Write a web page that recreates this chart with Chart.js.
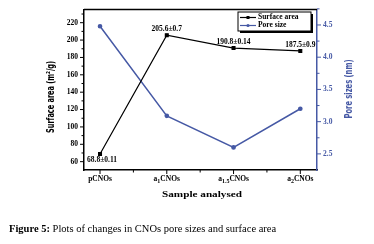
<!DOCTYPE html>
<html>
<head>
<meta charset="utf-8">
<script src="https://cdn.jsdelivr.net/npm/chart.js@4.4.1/dist/chart.umd.min.js"></script>
<style>
  html, body { margin: 0; padding: 0; background: #fff; }
  #wrap { width: 374px; height: 244px; position: relative; }
</style>
</head>
<body>
<div id="wrap"><canvas id="chart" width="374" height="244"></canvas></div>
<script>
// chart data
var samples = ['pCNOs', 'a1CNOs', 'a1.5CNOs', 'a2CNOs'];
var sampleSub = ['', '1', '1.5', '2'];
var surfaceArea = [68.8, 205.6, 190.8, 187.5];
var surfaceErr = ['68.8\u00b10.11', '205.6\u00b10.7', '190.8\u00b10.14', '187.5\u00b10.9'];
var poreSize = [4.48, 3.09, 2.6, 3.2];
var leftTicks = [60, 80, 100, 120, 140, 160, 180, 200, 220];
var rightTicks = [2.5, 3.0, 3.5, 4.0, 4.5];

var BLUE = '#4659a5';
var tickFont = 'bold 7.5px "Liberation Serif", serif';
var subFont = 'bold 6px "Liberation Serif", serif';

var points = function(vals){
	var out = [];
	for (var i in vals) out.push({x: Number(i), y: vals[i]});
	return out;
};

// text squeezed/stretched to a given length, centred at 0,0
var fitText = function(c, txt, len){
	var w = c.measureText(txt).width;
	c.save(); c.scale(len / w, 1); c.fillText(txt, 0, 0); c.restore();
};

var sampleLabel = function(c, i, cx, y){
	var sub = sampleSub[i];
	if (!sub) { c.font = tickFont; c.textAlign = 'center'; c.fillText(samples[i], cx, y); return; }
	c.font = tickFont;
	var wa = c.measureText('a').width, wc = c.measureText('CNOs').width;
	c.font = subFont;
	var ws = c.measureText(sub).width;
	var x = cx - (wa + ws + wc) / 2;
	c.textAlign = 'left';
	c.font = tickFont; c.fillText('a', x, y);
	c.font = subFont; c.fillText(sub, x + wa, y + 2.5);
	c.font = tickFont; c.fillText('CNOs', x + wa + ws, y);
};

var decor = {
	id: 'decor',
	afterDraw: function(chart){
		var c = chart.ctx, a = chart.chartArea;
		var sx = chart.scales.x, sy = chart.scales.y, sy1 = chart.scales.y1;
		c.save();
		// top frame
		c.strokeStyle = '#000'; c.lineWidth = 1.5;
		c.beginPath(); c.moveTo(a.left, a.top); c.lineTo(a.right, a.top); c.stroke();

		// left ticks
		c.lineWidth = 1;
		for (var v = 60; v <= 230; v += 10) {
			var y = sy.getPixelForValue(v), len = (v % 20 == 0) ? 4 : 2.5;
			c.beginPath(); c.moveTo(a.left, y); c.lineTo(a.left - len, y); c.stroke();
		}
		c.font = tickFont; c.fillStyle = '#000'; c.textAlign = 'right'; c.textBaseline = 'middle';
		for (var i in leftTicks) c.fillText(leftTicks[i], a.left - 6, sy.getPixelForValue(leftTicks[i]));

		// bottom ticks
		for (var k = 0; k <= 3; k += 0.5) {
			var x = sx.getPixelForValue(k), l2 = (k % 1 == 0) ? 4 : 2.5;
			c.beginPath(); c.moveTo(x, a.bottom); c.lineTo(x, a.bottom + l2); c.stroke();
		}
		c.textBaseline = 'alphabetic';
		for (var j in samples) sampleLabel(c, Number(j), sx.getPixelForValue(Number(j)), a.bottom + 10.5);

		// right ticks
		c.strokeStyle = BLUE; c.fillStyle = BLUE;
		for (var p = 2.5; p <= 4.75; p += 0.25) {
			var yy = sy1.getPixelForValue(p), l3 = (Math.round(p * 100) % 50 == 0) ? 4 : 2.5;
			c.beginPath(); c.moveTo(a.right, yy); c.lineTo(a.right + l3, yy); c.stroke();
		}
		c.font = tickFont; c.textAlign = 'left'; c.textBaseline = 'middle';
		for (var r in rightTicks) c.fillText(rightTicks[r].toFixed(1), a.right + 6, sy1.getPixelForValue(rightTicks[r]));

		// axis titles
		c.font = 'bold 10px "Liberation Sans Narrow", "DejaVu Sans Condensed", sans-serif';
		c.textAlign = 'center'; c.textBaseline = 'middle';
		c.save(); c.translate(349, 89); c.rotate(-Math.PI / 2);
		fitText(c, 'Pore sizes (nm)', 59); c.restore();
		c.fillStyle = '#000';
		c.save(); c.translate(51, 97); c.rotate(-Math.PI / 2);
		fitText(c, 'Surface area (m\u00b2/g)', 72); c.restore();
		c.font = 'bold 9px "Liberation Serif", serif';
		c.save(); c.translate(202, 195); fitText(c, 'Sample analysed', 80); c.restore();

		// value labels
		c.font = tickFont; c.textBaseline = 'alphabetic'; c.textAlign = 'center';
		var meta = chart.getDatasetMeta(0);
		for (var n in meta.data) {
			var pt = meta.data[n];
			if (n == 0) c.fillText(surfaceErr[n], pt.x + 2, pt.y + 8);
			else c.fillText(surfaceErr[n], pt.x, pt.y - 4);
		}

		// legend box
		var bx = 238, by = 12, bw = 73, bh = 19;
		c.fillStyle = '#000'; c.fillRect(bx + 2, by + 2, bw, bh);
		c.fillStyle = '#fff'; c.fillRect(bx, by, bw, bh);
		c.strokeStyle = '#000'; c.lineWidth = 1; c.strokeRect(bx, by, bw, bh);
		c.lineWidth = 1.2;
		c.beginPath(); c.moveTo(bx + 2, by + 5.5); c.lineTo(bx + 18, by + 5.5); c.stroke();
		c.fillStyle = '#000'; c.fillRect(bx + 8.5, by + 4, 3, 3);
		c.strokeStyle = BLUE;
		c.beginPath(); c.moveTo(bx + 2, by + 13.5); c.lineTo(bx + 18, by + 13.5); c.stroke();
		c.fillStyle = BLUE; c.beginPath(); c.arc(bx + 10, by + 13.5, 1.6, 0, Math.PI * 2); c.fill();
		c.fillStyle = '#000'; c.font = tickFont; c.textAlign = 'left'; c.textBaseline = 'middle';
		c.fillText('Surface area', bx + 20, by + 5.5);
		c.fillText('Pore size', bx + 20, by + 13.5);

		// caption
		c.textBaseline = 'alphabetic';
		c.font = 'bold 10.5px "Liberation Serif", serif';
		c.fillText('Figure 5:', 9, 232);
		var w = c.measureText('Figure 5: ').width;
		c.font = '10.5px "Liberation Serif", serif';
		c.fillText('Plots of changes in CNOs pore sizes and surface area', 9 + w, 232);
		c.restore();
	}
};

var ctx = document.getElementById('chart');
var chart = new Chart(ctx, {
	type: 'line',
	data: {
		datasets: [
			{
				label: 'Surface area',
				data: points(surfaceArea),
				yAxisID: 'y',
				borderColor: '#000',
				backgroundColor: '#000',
				borderWidth: 1.2,
				pointStyle: 'rect',
				pointRadius: 2,
				tension: 0
			},
			{
				label: 'Pore size',
				data: points(poreSize),
				yAxisID: 'y1',
				borderColor: BLUE,
				backgroundColor: BLUE,
				borderWidth: 1.5,
				pointStyle: 'circle',
				pointRadius: 1.6,
				tension: 0
			}
		]
	},
	options: {
		responsive: false,
		animation: false,
		layout: { padding: { top: 9.5, left: 0, right: 0, bottom: 0 } },
		plugins: { legend: { display: false }, tooltip: { enabled: false } },
		scales: {
			x: {
				type: 'linear', min: -0.24, max: 3.25,
				grid: { display: false, drawTicks: false },
				border: { display: true, color: '#000', width: 1.5 },
				ticks: { display: false },
				afterFit: function(s){ s.height = 74; }
			},
			y: {
				position: 'left', min: 50.4, max: 235.2,
				grid: { display: false, drawTicks: false },
				border: { display: true, color: '#000', width: 1.5 },
				ticks: { display: false },
				afterFit: function(s){ s.width = 84; }
			},
			y1: {
				position: 'right', min: 2.25, max: 4.74,
				grid: { display: false, drawTicks: false },
				border: { display: true, color: BLUE, width: 1.5 },
				ticks: { display: false },
				afterFit: function(s){ s.width = 57; }
			}
		}
	},
	plugins: [decor]
});
</script>
</body>
</html>
